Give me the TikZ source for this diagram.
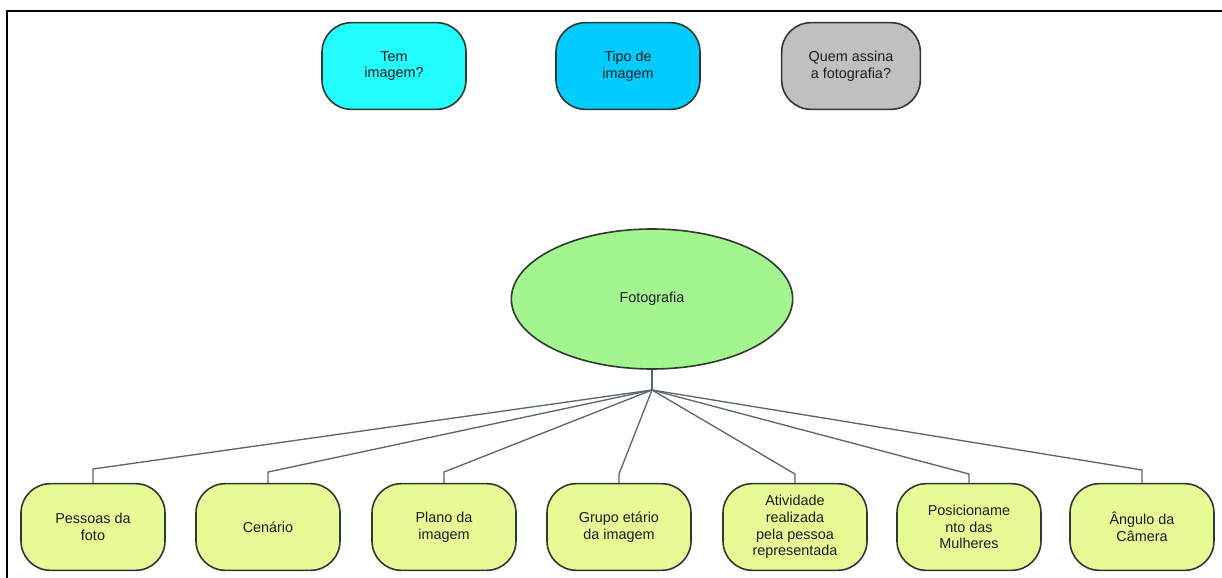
\documentclass[tikz,border=0pt]{standalone}
\usepackage{fontspec}
\setmainfont{Liberation Sans}
\usetikzlibrary{shapes.geometric}
\definecolor{cyanbox}{HTML}{22FCFC}
\definecolor{bluebox}{HTML}{00CCFF}
\definecolor{greybox}{HTML}{C0C0C0}
\definecolor{ellgreen}{HTML}{A3F590}
\definecolor{limebox}{HTML}{E6FA96}
\definecolor{edgecol}{HTML}{2E3A30}
\definecolor{linkcol}{HTML}{5C6670}
\definecolor{txtcol}{HTML}{1E1E1E}
\tikzset{
  rbox/.style={draw=edgecol, line width=1.2pt, rounded corners=22pt,
    minimum width=108pt, minimum height=65pt, align=center, text=txtcol,
    font=\fontsize{10.8pt}{12.5pt}\selectfont, inner sep=2pt},
  link/.style={draw=linkcol, line width=1pt},
}
\begin{document}
\begin{tikzpicture}[x=0.75pt,y=-0.75pt]
\useasboundingbox (0,0) rectangle (1222,578);
\draw[line width=1.6pt, black] (7,580) -- (7,11) -- (1224,11);
% top boxes
\node[rbox, fill=cyanbox] (tem) at (394,66) {Tem\\imagem?};
\node[rbox, fill=bluebox] (tipo) at (628,66) {Tipo de\\imagem};
\node[rbox, fill=greybox, minimum width=104pt] (quem) at (851,66) {Quem assina\\a fotografia?};
% ellipse
\node[ellipse, draw=edgecol, line width=1.2pt, fill=ellgreen, text=txtcol,
  minimum width=211pt, minimum height=105pt,
  font=\fontsize{10.8pt}{12.5pt}\selectfont] (foto) at (652,299) {Fotografia};
\coordinate (hub) at (652,390);
% bottom boxes
\node[rbox, fill=limebox] (b1) at (93,527) {Pessoas da\\foto};
\node[rbox, fill=limebox] (b2) at (268,527) {Cenário};
\node[rbox, fill=limebox] (b3) at (444,527) {Plano da\\imagem};
\node[rbox, fill=limebox] (b4) at (619,527) {Grupo etário\\da imagem};
\node[rbox, fill=limebox] (b5) at (795,527) {Atividade\\realizada\\pela pessoa\\representada};
\node[rbox, fill=limebox] (b6) at (969,527) {Posicioname\\nto das\\Mulheres};
\node[rbox, fill=limebox] (b7) at (1142,527) {Ângulo da\\Câmera};
% connectors
\draw[link] (foto.south) -- (hub);
\foreach \b/\cy in {b1/469,b2/472,b3/472,b4/474,b5/474,b6/474,b7/470}{
  \draw[link] (hub) -- (\b.north |- 0,\cy) -- (\b.north);
}
\end{tikzpicture}
\end{document}
